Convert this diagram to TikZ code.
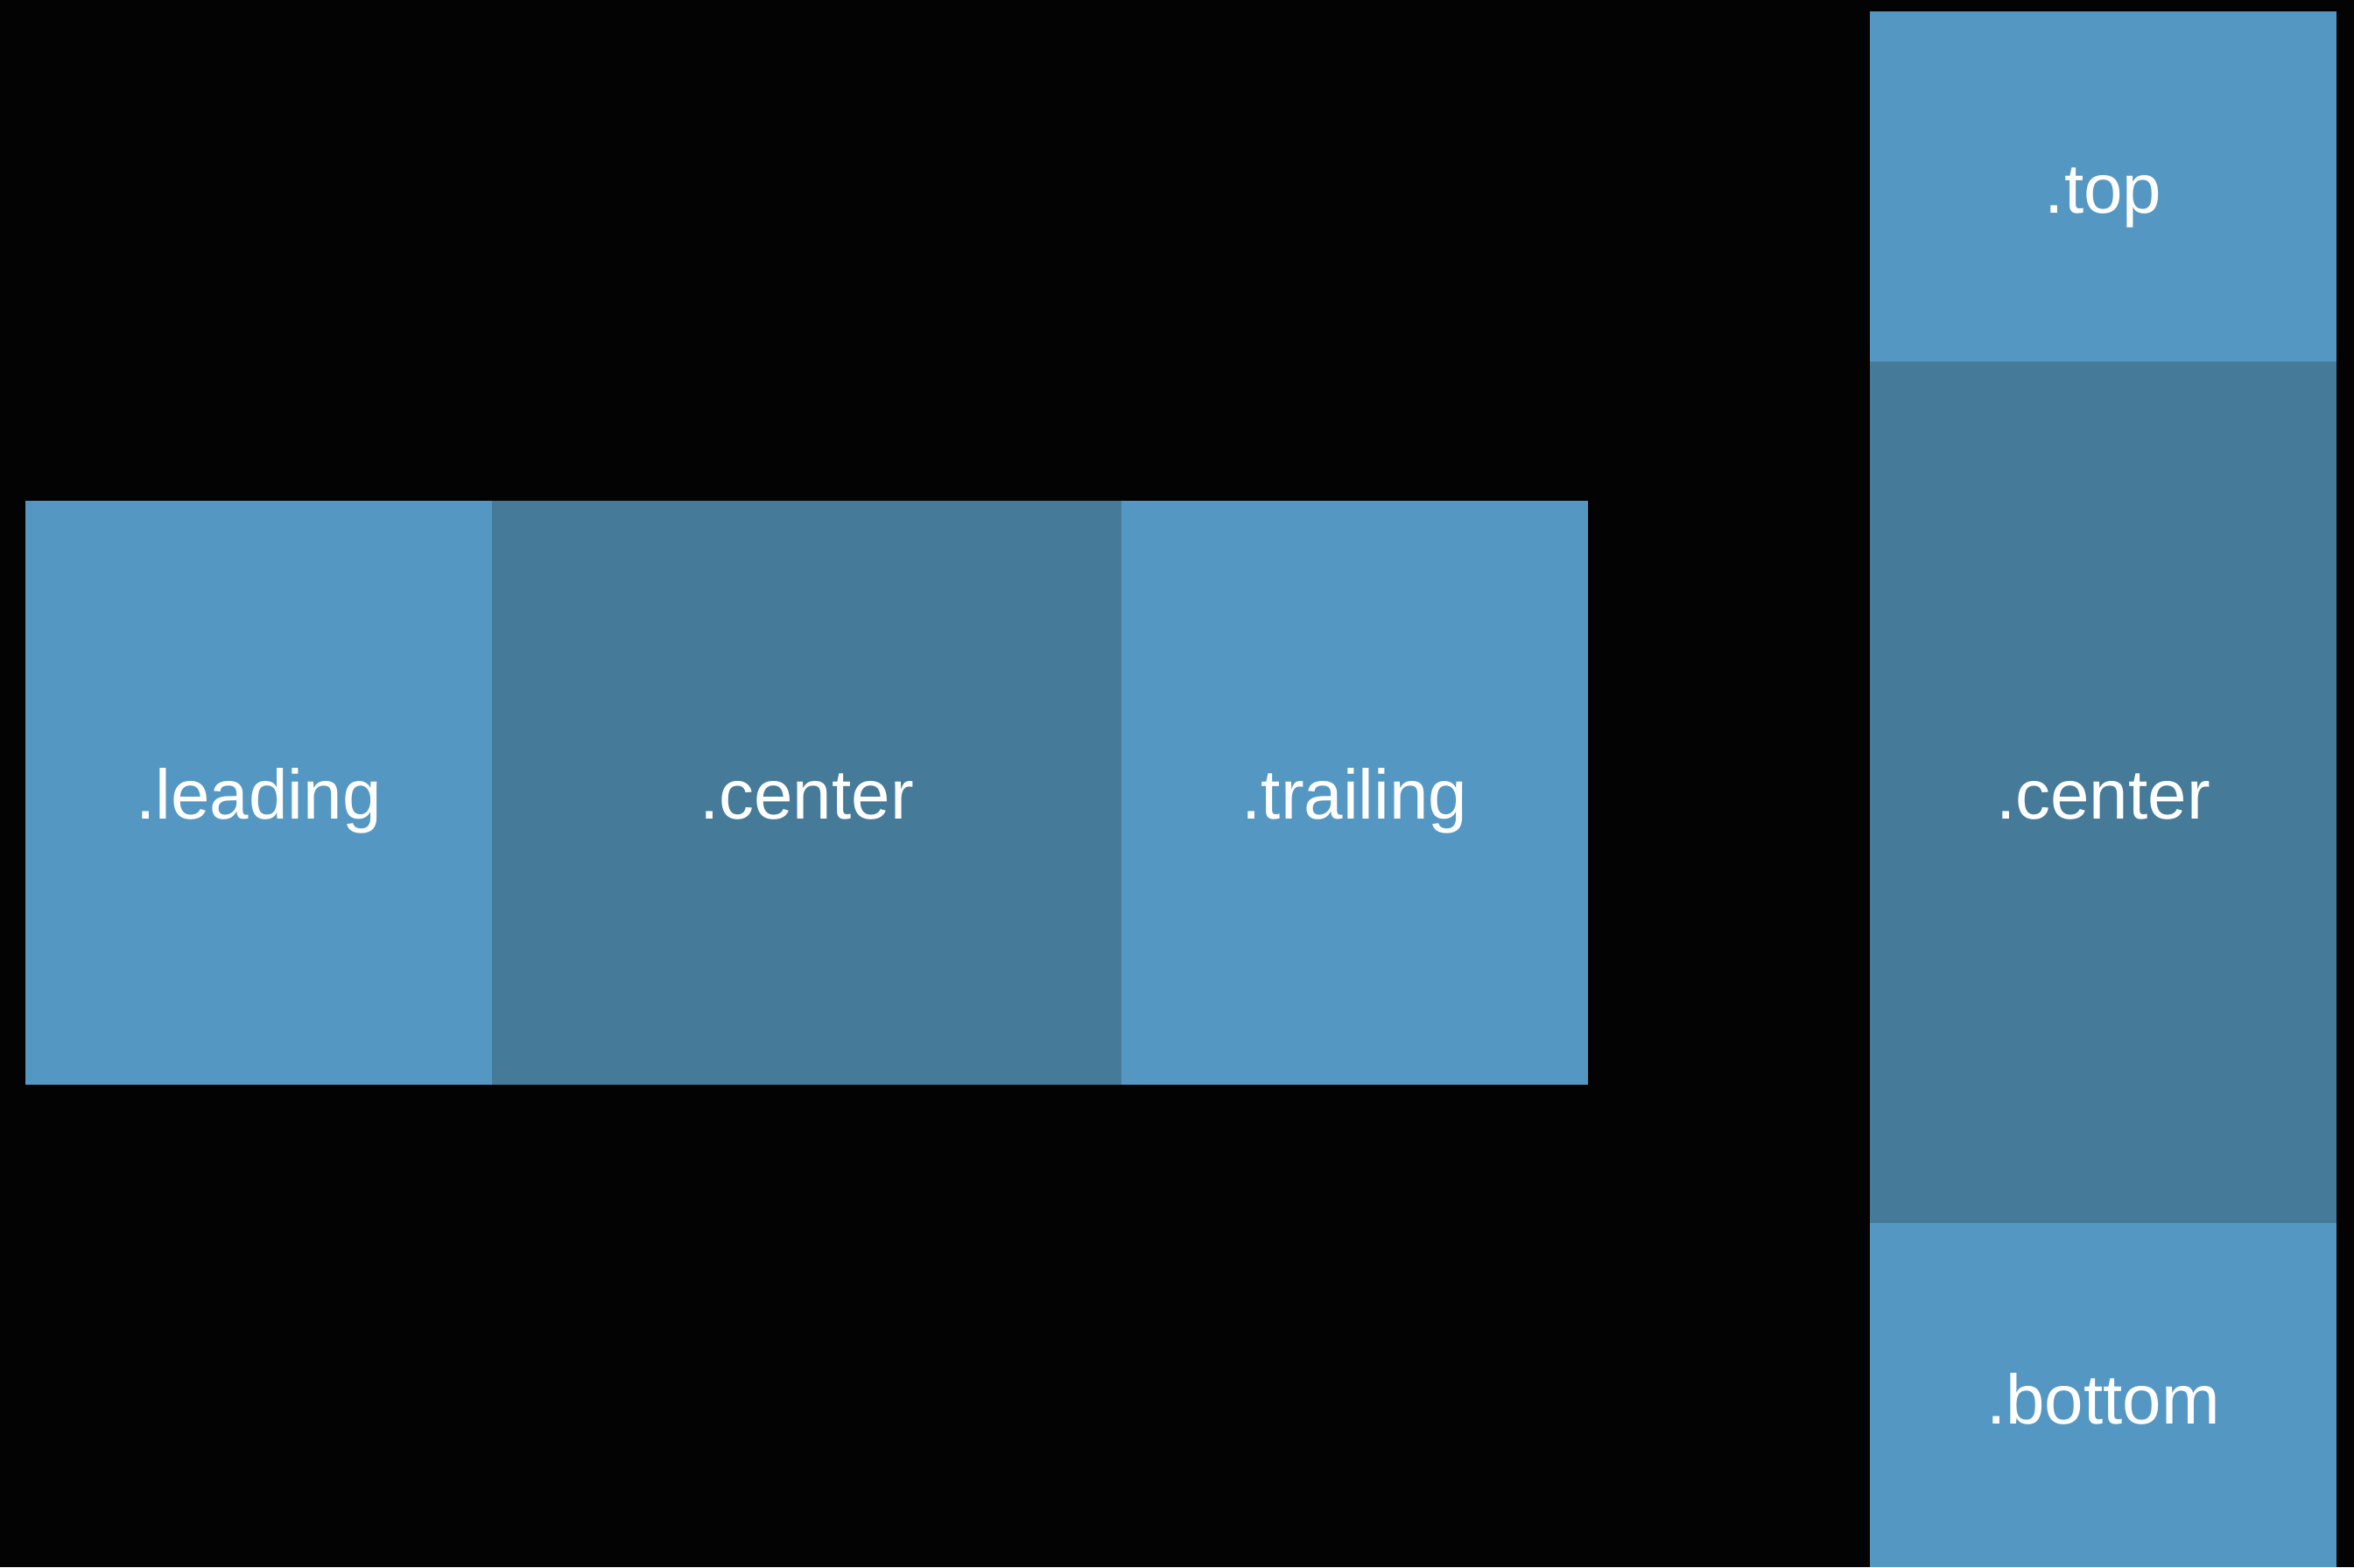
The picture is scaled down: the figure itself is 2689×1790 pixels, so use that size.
\documentclass[tikz,border=0pt]{standalone}
\usepackage{fontspec}
\setmainfont{Liberation Sans}
\definecolor{lightblue}{RGB}{84,151,194}
\definecolor{darkblue}{RGB}{69,122,153}
\definecolor{bg}{RGB}{3,3,3}
\begin{document}
\begin{tikzpicture}[x=1pt,y=-1pt,
  cell/.style={inner sep=0pt,outer sep=0pt,anchor=base,text=white,font=\fontsize{80}{96}\selectfont},
  lightcell/.style={fill=lightblue},
  darkcell/.style={fill=darkblue}]
\fill[bg] (0,0) rectangle (2689,1790);
\useasboundingbox (0,0) rectangle (2689,1790);
% horizontal row
\fill[lightcell] (29,572) rectangle (562,1239);
\fill[darkcell] (562,572) rectangle (1281,1239);
\fill[lightcell] (1281,572) rectangle (1814,1239);
\node[cell] (leading) at (295.5,935) {.leading};
\node[cell] (hcenter) at (921.5,935) {.center};
\node[cell] (trailing) at (1547.5,935) {.trailing};
% vertical column
\fill[lightcell] (2136,13) rectangle (2669,413);
\fill[darkcell] (2136,413) rectangle (2669,1397);
\fill[lightcell] (2136,1397) rectangle (2669,1790);
\node[cell] (top) at (2402.5,243) {.top};
\node[cell] (vcenter) at (2402.5,935) {.center};
\node[cell] (bottom) at (2402.5,1626) {.bottom};
\end{tikzpicture}
\end{document}
